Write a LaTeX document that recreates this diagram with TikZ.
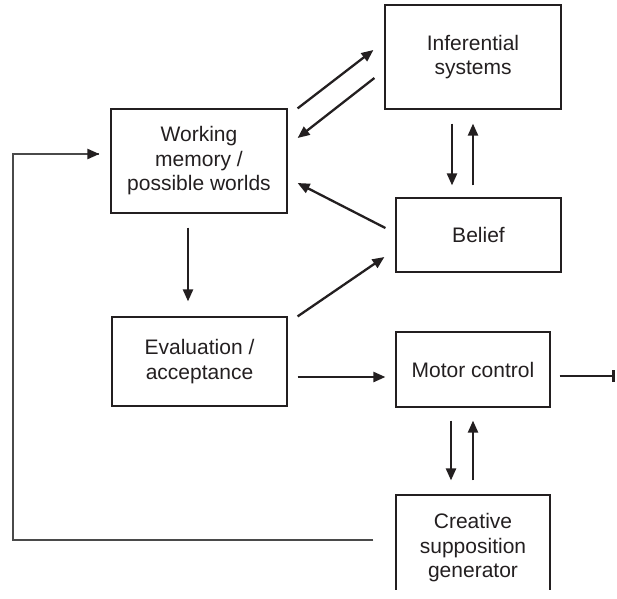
\documentclass[tikz,border=0pt]{standalone}
\usepackage{fontspec}
\setmainfont{Liberation Sans}
\usetikzlibrary{arrows.meta,calc}
\definecolor{ink}{HTML}{231F20}
\definecolor{wire}{HTML}{4A4A4A}
\tikzset{
  box/.style={draw=ink, line width=1.2pt, rectangle, align=center, inner sep=0pt,
    font=\fontsize{21}{24.5}\selectfont, text=ink},
  arr/.style={draw=ink, line width=2.3pt, -{Triangle[length=12pt,width=10pt]}},
  feed/.style={draw=wire, line width=1.6pt},
  stopbar/.style={draw=ink, line width=2.3pt, -{Bar[width=12pt,line width=2.8pt]}}
}
\begin{document}
\begin{tikzpicture}[x=1pt,y=-1pt]
\useasboundingbox (0,0) rectangle (617,598);
% the generator box runs off the lower edge of the figure
\clip (0,0) rectangle (617,589);

% blocks
\node[box, minimum width=176pt, minimum height=104pt] (inf)   at (473,57)    {Inferential\\systems};
\node[box, minimum width=176pt, minimum height=104pt] (wm)    at (199,161)   {Working\\memory /\\possible worlds};
\node[box, minimum width=165pt, minimum height=74pt]  (bel)   at (478.5,235) {Belief};
\node[box, minimum width=175pt, minimum height=89pt]  (eval)  at (199.5,361.5) {Evaluation /\\acceptance};
\node[box, minimum width=154pt, minimum height=75pt]  (motor) at (473,369.5) {Motor control};
\node[box, minimum width=154pt, minimum height=106pt] (crea)  at (473,548)   {Creative\\supposition\\generator};

% working memory <-> inferential systems
\draw[arr] ($(wm.north east)+(10,0)$) -- ($(inf.west)+(-11,-7)$);
\draw[arr] ($(inf.west)+(-10,21)$) -- ($(wm.east)+(10,-23)$);

% inferential systems <-> belief
\draw[arr] ($(inf.south)+(-21,14)$) -- ($(bel.north)+(-26.5,-12)$);
\draw[arr] ($(bel.north)+(-5.5,-12)$) -- ($(inf.south)+(0,14)$);

% belief -> working memory
\draw[arr] ($(bel.west)+(-10,-7)$) -- ($(wm.east)+(10,22)$);

% working memory -> evaluation
\draw[arr] ($(wm.south)+(-11,14)$) -- ($(eval.north)+(-11.5,-15)$);

% evaluation -> belief, evaluation -> motor control
\draw[arr] ($(eval.north east)+(10,0)$) -- ($(bel.west)+(-11,22)$);
\draw[arr] ($(eval.east)+(10,15.5)$) -- ($(motor.west)+(-10,7.5)$);

% motor output
\coordinate (out) at (615,376);
\draw[stopbar] ($(motor.east)+(9,6.5)$) -- (out);

% motor control <-> creative supposition generator
\draw[arr] ($(motor.south)+(-22,13)$) -- ($(crea.north)+(-22,-14)$);
\draw[arr] ($(crea.north)+(0,-14)$) -- ($(motor.south)+(0,13)$);

% feedback loop from the generator to working memory
\coordinate (fbstart) at ($(crea.west)+(-22,-8)$);
\coordinate (fbend)   at ($(wm.west)+(-11,-7)$);
\coordinate (fbcorner) at (13,540);
\draw[feed] (fbstart) -- (fbcorner) |- (fbend);
\draw[arr] ($(fbend)+(-2,0)$) -- (fbend);
\end{tikzpicture}
\end{document}
